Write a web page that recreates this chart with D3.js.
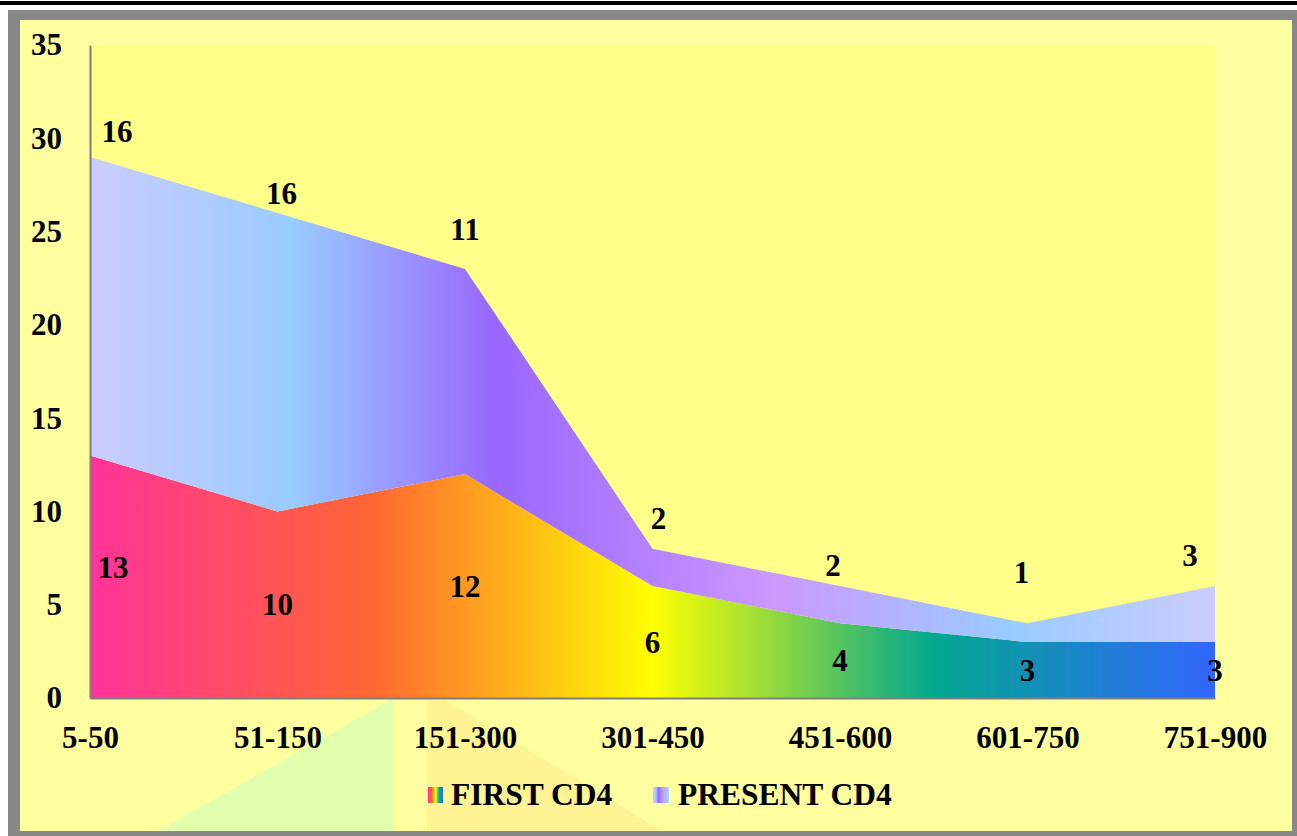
<!DOCTYPE html>
<html>
<head>
<meta charset="utf-8">
<script src="https://cdn.jsdelivr.net/npm/d3@7"></script>
<style>
  body { margin: 0; background: #fff; }
  svg text { font-family: "Liberation Serif", "Times New Roman", serif; font-weight: bold; }
</style>
</head>
<body>
<div id="chart"></div>
<script>
var categories = ["5-50", "51-150", "151-300", "301-450", "451-600", "601-750", "751-900"];
var firstCD4 = [13, 10, 12, 6, 4, 3, 3];
var presentCD4 = [16, 16, 11, 2, 2, 1, 3];
var yTicks = [0, 5, 10, 15, 20, 25, 30, 35];
var seriesNames = ["FIRST CD4", "PRESENT CD4"];

// label nudges (pixels), as placed in the original
var firstDx = [23, 0, 0, 0, 0, 0, 0], firstDy = [-9, 0, 0, 0, 0, 0, 0];
var presentDx = [27, 4, 0, 6, -7, -6, -25], presentDy = [-25, -19, -39, -30, -21, -51, -31];

var W = 1297, H = 836;
var plot = {left: 90, right: 1215, top: 45, bottom: 698};

var svg = d3.select("#chart").append("svg")
    .attr("width", W).attr("height", H);

var defs = svg.append("defs");
function grad(id, stops, x1, x2) {
  var g = defs.append("linearGradient").attr("id", id)
      .attr("gradientUnits", "userSpaceOnUse")
      .attr("x1", x1).attr("x2", x2).attr("y1", 0).attr("y2", 0);
  stops.forEach(function(s) {
    g.append("stop").attr("offset", s[0]).attr("stop-color", s[1]);
  });
}
var rainbow = [[0, "#FF3399"], [0.25, "#FF6633"], [0.5, "#FFFF00"], [0.75, "#01A78F"], [1, "#3366FF"]];
var calmWater = [[0, "#CCCCFF"], [0.18, "#99CCFF"], [0.36, "#9966FF"], [0.61, "#CC99FF"], [0.82, "#99CCFF"], [1, "#CCCCFF"]];
grad("gFirst", rainbow, plot.left, plot.right);
grad("gPresent", calmWater, plot.left, plot.right);
grad("gFirstKey", rainbow, 428, 443);
grad("gPresentKey", calmWater, 653, 669);

// frame
svg.append("rect").attr("x", 0).attr("y", 1).attr("width", W).attr("height", 4).attr("fill", "#000");
svg.append("rect").attr("x", 8).attr("y", 10).attr("width", W - 8).attr("height", H - 10).attr("fill", "#888");
svg.append("rect").attr("x", 20).attr("y", 20).attr("width", 1272).attr("height", 811).attr("fill", "#FFFFA0");

// faint watermark behind the chart
svg.append("polygon").attr("points", "158,831 390,700 393,700 393,831").attr("fill", "#E2FFAE");
svg.append("polygon").attr("points", "427,700 446,700 662,831 427,831").attr("fill", "#FFF494");

svg.append("rect")
    .attr("x", plot.left).attr("y", plot.top)
    .attr("width", plot.right - plot.left).attr("height", plot.bottom - plot.top)
    .attr("fill", "#FFFF8A");

var x = d3.scalePoint().domain(categories).range([plot.left, plot.right]);
var y = d3.scaleLinear().domain([0, 35]).range([plot.bottom, plot.top]);

var rows = categories.map(function(c, i) {
  return {cat: c, first: firstCD4[i], present: presentCD4[i]};
});
var stacked = d3.stack().keys(["first", "present"])(rows);

var area = d3.area()
    .x(function(d) { return x(d.data.cat); })
    .y0(function(d) { return y(d[0]); })
    .y1(function(d) { return y(d[1]); });

svg.selectAll("path.layer")
  .data(stacked)
  .enter().append("path")
    .attr("class", "layer")
    .attr("d", area)
    .attr("fill", function(d, i) { return i === 0 ? "url(#gFirst)" : "url(#gPresent)"; });

// axes
var yAxis = svg.append("g")
    .attr("transform", "translate(" + plot.left + ",0)")
    .call(d3.axisLeft(y).tickValues(yTicks).tickSize(0).tickSizeOuter(0).tickPadding(28));
var xAxis = svg.append("g")
    .attr("transform", "translate(0," + plot.bottom + ")")
    .call(d3.axisBottom(x).tickSize(0).tickSizeOuter(0).tickPadding(28));
[yAxis, xAxis].forEach(function(a) {
  a.select(".domain").attr("stroke", "#7F7F7F").attr("stroke-width", 2);
  a.selectAll("text").attr("fill", "#000")
    .style("font-size", "31px")
    .style("font-family", "'Liberation Serif', 'Times New Roman', serif")
    .style("font-weight", "bold");
});

// data labels
var labels = svg.append("g").style("font-size", "31px").attr("text-anchor", "middle");
labels.selectAll("text.first")
  .data(stacked[0])
  .enter().append("text")
    .attr("x", function(d, i) { return x(d.data.cat) + firstDx[i]; })
    .attr("y", function(d, i) { return y((d[0] + d[1]) / 2) + firstDy[i]; })
    .attr("dy", "0.34em")
    .text(function(d) { return d.data.first; });
labels.selectAll("text.present")
  .data(stacked[1])
  .enter().append("text")
    .attr("x", function(d, i) { return x(d.data.cat) + presentDx[i]; })
    .attr("y", function(d, i) { return y(d[1]) + presentDy[i]; })
    .attr("dy", "0.34em")
    .text(function(d) { return d.data.present; });

// legend
var legend = svg.append("g").style("font-size", "31.5px");
var keyX = [428, 653];
seriesNames.forEach(function(name, i) {
  legend.append("rect")
    .attr("x", keyX[i]).attr("y", 787)
    .attr("width", i === 0 ? 15 : 16).attr("height", 16)
    .attr("fill", i === 0 ? "url(#gFirstKey)" : "url(#gPresentKey)");
  legend.append("text")
    .attr("x", keyX[i] + (i === 0 ? 23 : 25)).attr("y", 805)
    .text(name);
});
</script>
</body>
</html>
